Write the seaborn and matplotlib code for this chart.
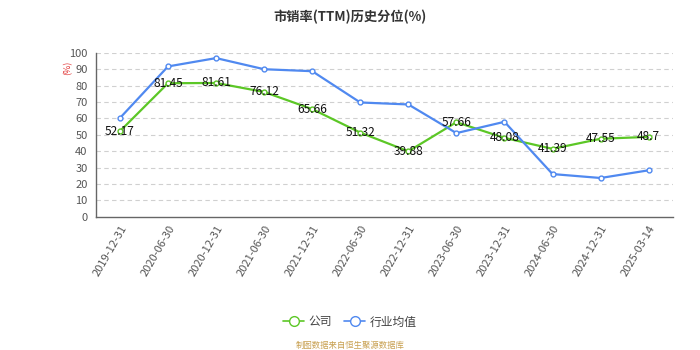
import matplotlib
matplotlib.use("Agg")
import matplotlib.pyplot as plt
from matplotlib.lines import Line2D
from matplotlib.transforms import ScaledTranslation
import seaborn as sns
import pandas as pd
import numpy as np

dates = ["2019-12-31", "2020-06-30", "2020-12-31", "2021-06-30", "2021-12-31",
         "2022-06-30", "2022-12-31", "2023-06-30", "2023-12-31", "2024-06-30",
         "2024-12-31", "2025-03-14"]
company = [52.17, 81.45, 81.61, 76.12, 65.66, 51.32, 39.88, 57.66, 48.08, 41.39, 47.55, 48.7]
industry = [60.2, 91.7, 96.8, 90.0, 88.8, 69.7, 68.5, 51.0, 57.9, 26.0, 23.6, 28.3]
series_names = ["公司", "行业均值"]
y_ticks = list(range(0, 101, 10))

GREEN = "#5cc726"
BLUE = "#5089f0"

sns.set_theme(style="white")
plt.rcParams["font.family"] = ["Noto Sans CJK SC", "DejaVu Sans"]
plt.rcParams["axes.unicode_minus"] = False

df = pd.DataFrame({
    "idx": list(range(len(dates))) * 2,
    "value": company + industry,
    "series": [series_names[0]] * len(dates) + [series_names[1]] * len(dates),
})

fig = plt.figure(figsize=(7, 3.5), dpi=100)
ax = fig.add_axes([0.137, 0.381, 0.824, 0.468])

sns.lineplot(data=df, x="idx", y="value", hue="series",
             palette={series_names[0]: GREEN, series_names[1]: BLUE},
             marker="o", markersize=3.5, markerfacecolor="white",
             markeredgewidth=1.0, linewidth=1.6, legend=False, ax=ax)
for line, c in zip(ax.get_lines(), [GREEN, BLUE]):
    line.set_markeredgecolor(c)

for i, v in enumerate(company):
    ax.text(i, v, f"{v:g}", ha="center", va="center", fontsize=8.6,
            color="#111111", zorder=5)

ax.set_xlim(-0.5, len(dates) - 0.5)
ax.set_ylim(0, 100)
ax.set_yticks(y_ticks)
ax.set_yticklabels([str(t) for t in y_ticks], fontsize=8, color="#555555")
ax.set_xticks(np.arange(-0.5, len(dates), 1.0))
ax.set_xticklabels([])
ax.set_xticks(np.arange(len(dates)), minor=True)
ax.set_xticklabels(dates, minor=True, rotation=60, ha="right",
                   rotation_mode="anchor", fontsize=8, color="#555555")
shift = ScaledTranslation(-9 / 100, 0, fig.dpi_scale_trans)
for lbl in ax.get_xticklabels(minor=True):
    lbl.set_transform(lbl.get_transform() + shift)
ax.tick_params(axis="x", which="minor", length=0, pad=5)
ax.tick_params(axis="x", which="major", length=4, width=1, color="#666666", direction="out")
ax.tick_params(axis="y", length=4, width=1, color="#666666", direction="out", pad=2)
ax.set_xlabel("")
ax.set_ylabel("")

for t in y_ticks[1:]:
    ax.axhline(t, color="#d0d0d0", linestyle=(0, (4, 3)), linewidth=0.8, zorder=0)

for s in ["top", "right"]:
    ax.spines[s].set_visible(False)
for s in ["left", "bottom"]:
    ax.spines[s].set_color("#666666")
    ax.spines[s].set_linewidth(1)

fig.text(0.5, 0.952, "市销率(TTM)历史分位(%)", ha="center", va="center",
         fontsize=9.5, fontweight="bold", color="#333333")
fig.text(0.097, 0.805, "(%)", ha="center", va="center", rotation=90,
         fontsize=6.5, color="#e03030")

handles = [Line2D([0], [0], color=c, linewidth=1.2, marker="o", markersize=7,
                  markerfacecolor="white", markeredgecolor=c)
           for c in [GREEN, BLUE]]
fig.legend(handles, series_names, loc="center", bbox_to_anchor=(0.5, 0.08),
           ncol=2, frameon=False, fontsize=8.5, handlelength=1.8,
           columnspacing=1.0, handletextpad=0.4, labelcolor="#444444")

fig.text(0.5, 0.013, "制图数据来自恒生聚源数据库", ha="center", va="center",
         fontsize=6, color="#c8a050")

fig.savefig("out.png", dpi=100)
